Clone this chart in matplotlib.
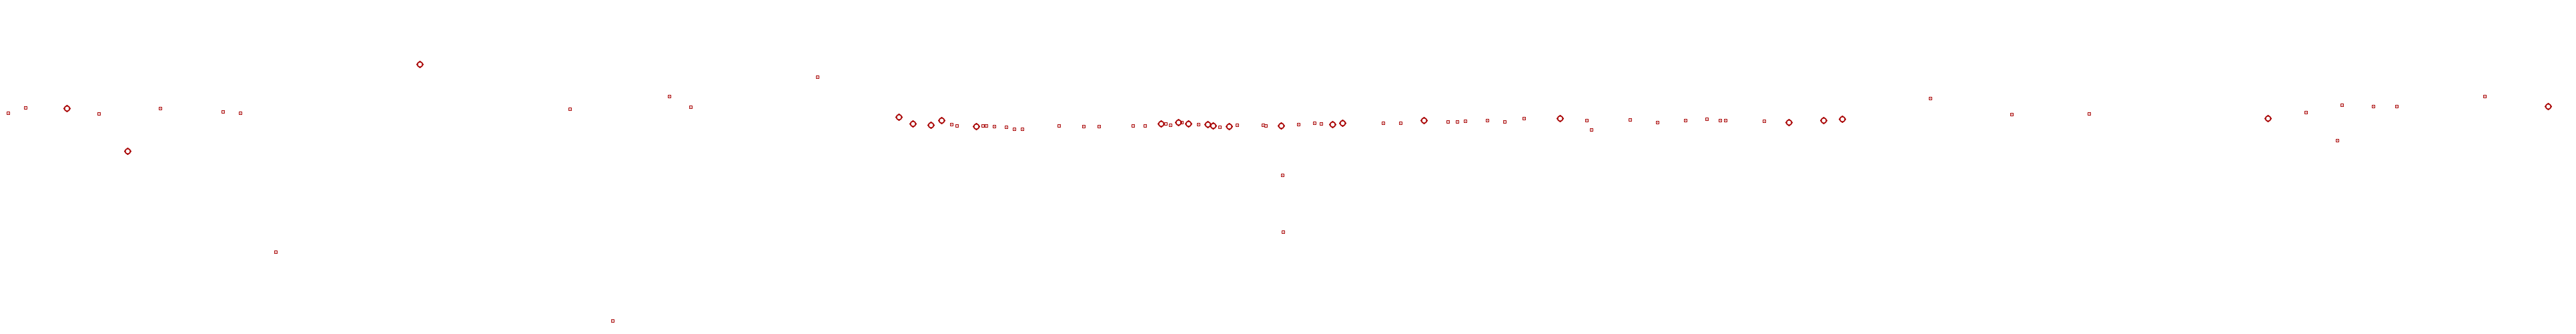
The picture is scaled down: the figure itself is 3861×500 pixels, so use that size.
import matplotlib
matplotlib.use("Agg")
import matplotlib.pyplot as plt
from matplotlib.path import Path
import numpy as np

# Series A: small square markers (position, value)
sq_x = [12.3, 38.3, 148.3, 240.3, 334.3, 360.3, 413.3, 854.3, 918.3, 1003.3, 1035.3, 1225.3,
        1426.3, 1434.3, 1473.3, 1478.3, 1490.3, 1508.3, 1520.3, 1532.3, 1587.3,
        1624.3, 1647.3, 1698.3, 1716.3, 1747.3, 1754.3, 1771.3, 1796.3, 1828.3, 1854.3,
        1893.3, 1897.3, 1922.3, 1923.3,
        1946.3, 1970.3, 1980.3, 2073.3, 2099.3, 2170.3, 2184.3, 2196.3, 2229.3,
        2255.0, 2284.3, 2378.3, 2385.3, 2443.3, 2484.3, 2526.3, 2558.3,
        2577.7, 2586.3, 2644.3, 2893.3, 3015.3, 3131.3, 3456.3, 3510.3, 3503.3,
        3557.3, 3592.3, 3724.3]
sq_y = [169.3, 161.3, 170.3, 162.3, 167.3, 169.3, 377.3, 163.3, 480.3, 144.3, 160.3, 115.3,
        186.3, 188.3, 188.3, 188.3, 189.3, 190.3, 193.3, 193.3, 188.3,
        189.3, 189.3, 188.3, 188.3, 185.3, 187.3, 183.3, 186.3, 190.3, 187.3,
        187.3, 188.3, 262.3, 347.3,
        186.3, 184.3, 185.3, 184.3, 184.3, 182.3, 182.3, 181.3, 180.3,
        182.3, 177.3, 180.3, 194.3, 179.3, 183.3, 180.3, 178.3,
        180.3, 180.3, 181.3, 147.3, 171.3, 170.3, 168.3, 157.3, 210.3,
        159.3, 159.3, 144.3]

# Series B: large ring markers (position, value)
rg_x = [100.3, 191.3, 629.3, 1347.3, 1368.3, 1395.3, 1411.3, 1463.3,
        1740.3, 1766.0, 1781.3, 1810.3, 1818.3, 1842.3, 1920.3,
        1997.3, 2012.3, 2134.3, 2338.3, 2681.3, 2733.3, 2761.3, 3399.3, 3819.3]
rg_y = [162.3, 226.3, 96.3, 175.3, 185.3, 187.3, 180.3, 189.3,
        185.3, 183.3, 185.3, 186.3, 188.3, 189.3, 188.3,
        186.3, 184.3, 180.3, 177.3, 183.3, 180.3, 178.3, 177.3, 159.3]

W, H = 3862, 500
color = "#a80000"

fig = plt.figure(figsize=(W / 100, H / 100), dpi=100)
ax = fig.add_axes([0, 0, 1, 1])
ax.set_xlim(0, W)
ax.set_ylim(H, 0)
ax.axis("off")

px = 72 / 100  # points per pixel

# small hollow squares with a centre dot
ax.plot(sq_x, sq_y, linestyle="none", marker="s", markersize=4.2 * px,
        markerfacecolor="none", markeredgecolor=color, markeredgewidth=1.0 * px)
ax.plot(sq_x, sq_y, linestyle="none", marker="s", markersize=1.0 * px,
        markerfacecolor=color, markeredgecolor="none")

# ring marker with four short ticks
circ = Path.unit_circle()
ticks = Path([(0, 1.0), (0, 1.45), (0, -1.0), (0, -1.45),
              (1.0, 0), (1.45, 0), (-1.0, 0), (-1.45, 0)],
             [Path.MOVETO, Path.LINETO] * 4)
ring = Path.make_compound_path(circ, ticks)
ax.plot(rg_x, rg_y, linestyle="none", marker=ring, markersize=11 * px,
        markerfacecolor="none", markeredgecolor=color, markeredgewidth=1.8 * px)

fig.savefig("out.png", dpi=100, facecolor="white")
